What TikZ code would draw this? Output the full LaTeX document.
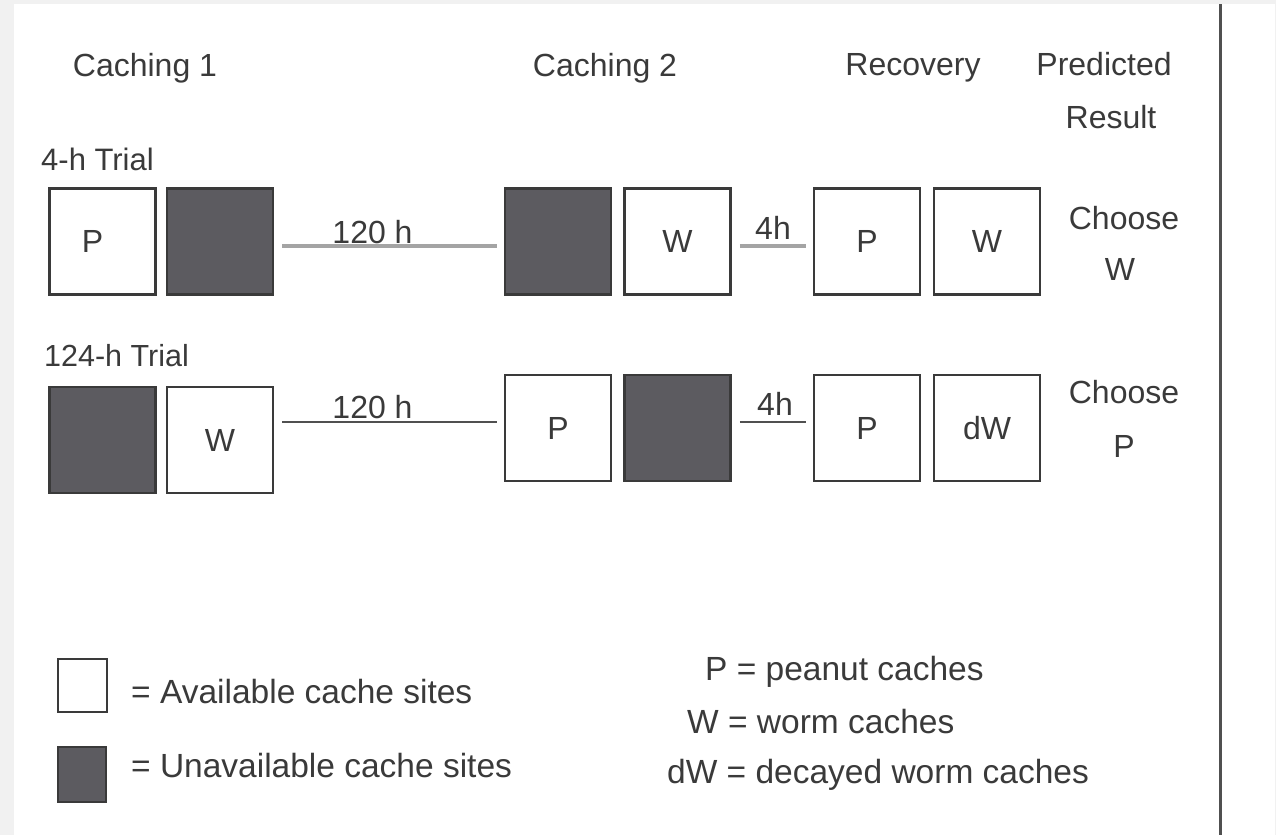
\documentclass[tikz,border=0pt]{standalone}
\usepackage{fontspec}
\setmainfont{Liberation Sans}
\usetikzlibrary{calc}
\definecolor{txt}{HTML}{3A3A3A}
\definecolor{boxc}{HTML}{3A3A3A}
\definecolor{darkc}{HTML}{5C5B60}
\definecolor{linegray}{HTML}{A4A4A4}
\definecolor{linedark}{HTML}{505050}
\definecolor{bgout}{HTML}{F1F1F1}
\definecolor{vline}{HTML}{505050}
\begin{document}
\begin{tikzpicture}[x=1pt,y=-1pt,
  every node/.style={text=txt, font=\fontsize{32}{38}\selectfont},
  cell/.style={draw=boxc, line width=2.5pt, fill=white, minimum width=106pt, minimum height=106pt, inner sep=0pt},
  darkcell/.style={cell, fill=darkc},
  gapline/.style={draw=linegray, line width=3.5pt, shorten <=8pt, shorten >=7pt},
  gapline2/.style={draw=linedark, line width=2pt, shorten <=8pt, shorten >=7pt},
  lab/.style={anchor=base, inner sep=0pt},
  labw/.style={anchor=base west, inner sep=0pt},
  legw/.style={labw, font=\fontsize{33.5}{40}\selectfont}
]
\useasboundingbox (0,0) rectangle (1276,835);
% background
\fill[bgout] (0,0) rectangle (1276,835);
\fill[white] (14,4) rectangle (1275,835);
\draw[line width=3pt, vline] (1220,4) -- (1220,835);

% headings
\node[lab] (h1) at (145,76) {Caching 1};
\node[lab] (h2) at (605,76) {Caching 2};
\node[lab] (h3) at (913,75) {Recovery};
\node[lab] (h4) at (1104,75) {Predicted};
\node[lab] (h5) at (1111,128) {Result};

% row 1
\node[labw, font=\fontsize{31}{38}\selectfont] (t1) at (41,170) {4-h Trial};
\node[cell] (b11) at (102.5,241.5) {\hspace*{-20pt}P};
\node[darkcell] (b12) at (220,241.5) {};
\node[darkcell] (b13) at (558,241.5) {};
\node[cell] (b14) at (677.5,241.5) {W};
\node[cell] (b15) at (867,241.5) {P};
\node[cell] (b16) at (987,241.5) {W};
\draw[gapline] ([yshift=-4.5pt]b12.east) -- ([yshift=-4.5pt]b13.west);
\draw[gapline] ([yshift=-4.5pt]b14.east) -- ([yshift=-4.5pt]b15.west);
\node[lab] (l11) at (372.5,243) {120 h};
\node[lab] (l12) at (773,239) {4h};
\node[lab] (c11) at (1124,229) {Choose};
\node[lab] (c12) at (1120,280) {W};

% row 2
\node[labw, font=\fontsize{30.5}{38}\selectfont] (t2) at (44,366) {124-h Trial};
\node[darkcell] (b21) at (102.5,440) {};
\node[cell] (b22) at (220,440) {W};
\node[cell] (b23) at (558,428) {P};
\node[darkcell] (b24) at (677.5,428) {};
\node[cell] (b25) at (867,428) {P};
\node[cell] (b26) at (987,428) {dW};
\coordinate (r2) at (0,422);
\draw[gapline2] (b22.east |- r2) -- (b23.west |- r2);
\draw[gapline2] (b24.east |- r2) -- (b25.west |- r2);
\node[lab] (l21) at (372.5,418) {120 h};
\node[lab] (l22) at (775,415) {4h};
\node[lab] (c21) at (1124,403) {Choose};
\node[lab] (c22) at (1124,457) {P};

% legend
\node[draw=boxc, line width=2.5pt, fill=white, minimum width=49pt, minimum height=53pt, inner sep=0pt] (lg1) at (82.5,685.5) {};
\node[draw=boxc, line width=2.5pt, fill=darkc, minimum width=48pt, minimum height=55pt, inner sep=0pt] (lg2) at (82,774.5) {};
\node[legw] (lt1) at (131,703) {= Available cache sites};
\node[legw] (lt2) at (131,777) {= Unavailable cache sites};
\node[legw] (k1) at (705,680) {P = peanut caches};
\node[legw] (k2) at (687,733) {W = worm caches};
\node[legw] (k3) at (667,783) {dW = decayed worm caches};
\end{tikzpicture}
\end{document}
